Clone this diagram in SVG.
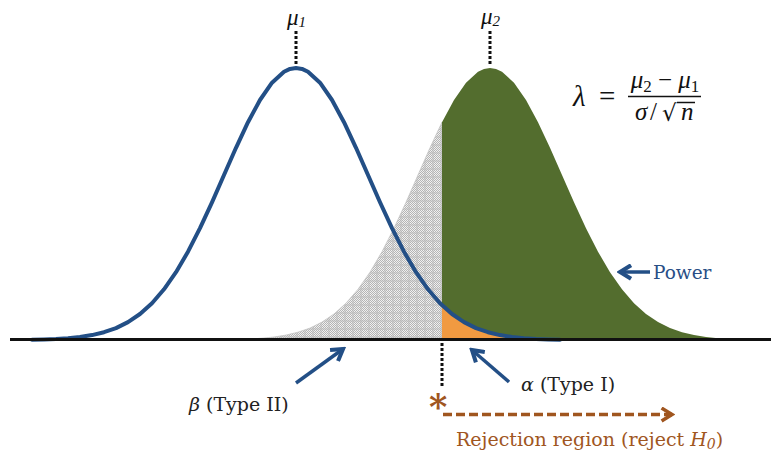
<svg xmlns="http://www.w3.org/2000/svg" width="771" height="456" viewBox="0 0 771 456">
<style>
.lbl{font-family:"DejaVu Serif","Liberation Serif",serif;}
.math{font-family:"Liberation Serif","DejaVu Serif",serif;}
.it{font-style:italic;}
.dot{stroke:#111;stroke-width:3;stroke-dasharray:3 2;fill:none;}
.barrow{stroke:#234f86;stroke-width:3.5;fill:none;}
</style>
<defs>
<pattern id="chk" width="2" height="2" patternUnits="userSpaceOnUse">
<rect width="2" height="2" fill="#f0f0f0"/>
<rect width="1" height="1" fill="#b4b4b4"/>
<rect x="1" y="1" width="1" height="1" fill="#b4b4b4"/>
</pattern>
<pattern id="plaid" width="8" height="8" patternUnits="userSpaceOnUse">
<rect width="8" height="8" fill="url(#chk)"/>
<rect x="0" width="2" height="8" fill="#bdbdbd" opacity="0.45"/>
<rect y="0" width="8" height="2" fill="#bdbdbd" opacity="0.45"/>
</pattern>
<marker id="bHead" viewBox="0 0 10 10" refX="8" refY="5" markerWidth="17" markerHeight="17" markerUnits="userSpaceOnUse" orient="auto">
<path d="M1.5,1 L8,5 L1.5,9" fill="none" stroke="#234f86" stroke-width="2.4"/>
</marker>
<marker id="rHead" viewBox="0 0 10 10" refX="8" refY="5" markerWidth="16" markerHeight="16" markerUnits="userSpaceOnUse" orient="auto">
<path d="M1.5,1 L8,5 L1.5,9" fill="none" stroke="#a0561f" stroke-width="2.2"/>
</marker>
</defs>
<rect width="771" height="456" fill="#ffffff"/>

<g id="beta-region">
<path d="M226,340 L226,339.7 238,339.4 250,339.0 262,338.2 274,337.0 286,335.1 298,332.2 310,328.1 322,322.1 334,314.0 346,303.2 358,289.3 370,272.2 382,251.7 394,228.2 406,202.3 418,175.0 430,147.8 442,122.2 L442,340 Z" fill="url(#plaid)" stroke="#c4c4c4" stroke-width="0.8"/>
</g>

<g id="power-region">
<path d="M442,340 L442,122.2 454,100.0 466,82.7 478,71.8 484,68.9 490,68.0 496,68.9 502,71.8 514,82.7 526,100.0 538,122.2 550,147.8 562,175.0 574,202.3 586,228.2 598,251.7 610,272.2 622,289.3 634,303.2 646,314.0 658,322.1 670,328.1 682,332.2 694,335.1 706,337.0 718,338.2 730,339.0 742,339.4 754,339.7 766,340 Z" fill="#536d2e"/>
</g>

<g id="alpha-region">
<path d="M442,340 L442,305.2 452,314.0 464,322.1 476,328.1 488,332.2 500,335.1 512,337.0 524,338.2 536,339.0 548,339.4 560,340 Z" fill="#f19a41"/>
</g>

<g id="h0-curve">
<polyline points="32,339.7 44,339.4 56,339.0 68,338.2 80,337.0 92,335.1 104,332.2 116,328.1 128,322.1 140,314.0 152,303.2 164,289.3 176,272.2 188,251.7 200,228.2 212,202.3 224,175.0 236,147.8 248,122.2 260,100.0 272,82.7 284,71.8 290,68.9 296,68.0 302,68.9 308,71.8 320,82.7 332,100.0 344,122.2 356,147.8 368,175.0 380,202.3 392,228.2 404,251.7 416,272.2 428,289.3 440,303.2 452,314.0 464,322.1 476,328.1 488,332.2 500,335.1 512,337.0 524,338.2 536,339.0 548,339.4 560,339.7" fill="none" stroke="#234f86" stroke-width="4" stroke-linejoin="round" stroke-linecap="round"/>
</g>

<g id="axis">
<line x1="10" y1="339.5" x2="771" y2="339.5" stroke="#111" stroke-width="3"/>
</g>

<g id="mu1">
<line class="dot" x1="296" y1="31" x2="296" y2="66"/>
<text class="math it" x="287" y="25" font-size="23" fill="#111">μ<tspan font-size="15" dy="2">1</tspan></text>
</g>
<g id="mu2">
<line class="dot" x1="490" y1="31" x2="490" y2="66"/>
<text class="math it" x="481" y="24" font-size="23" fill="#111">μ<tspan font-size="15" dy="2">2</tspan></text>
</g>

<g id="formula" fill="#111">
<text class="math it" x="573" y="106" font-size="29">λ</text>
<text class="math" x="599" y="106" font-size="29">=</text>
<text class="math" x="665" y="88" font-size="25" text-anchor="middle"><tspan class="it">μ</tspan><tspan font-size="17" dy="4">2</tspan><tspan dy="-4"> − </tspan><tspan class="it">μ</tspan><tspan font-size="17" dy="4">1</tspan></text>
<line x1="628" y1="96.5" x2="701" y2="96.5" stroke="#111" stroke-width="1.6"/>
<text class="math it" x="635" y="120" font-size="25">σ</text>
<text class="math" x="650" y="120" font-size="25">/</text>
<text class="lbl" x="662" y="121" font-size="23">√</text>
<text class="math it" x="681" y="120" font-size="25">n</text>
<line x1="677" y1="102.5" x2="695" y2="102.5" stroke="#111" stroke-width="1.5"/>
</g>

<g id="cutoff">
<line class="dot" x1="442" y1="343" x2="442" y2="386"/>
<text class="lbl" x="429" y="419" font-size="35" font-weight="bold" fill="#a0561f">*</text>
</g>

<g id="connectors">
<line class="barrow" x1="296" y1="383" x2="343" y2="349" marker-end="url(#bHead)"/>
<line class="barrow" x1="509" y1="382" x2="472" y2="350" marker-end="url(#bHead)"/>
<line class="barrow" x1="650" y1="272" x2="620" y2="272" marker-end="url(#bHead)"/>
<line x1="443" y1="414.5" x2="672" y2="414.5" stroke="#a0561f" stroke-width="3.5" stroke-dasharray="9 4" marker-end="url(#rHead)"/>
</g>

<g id="labels">
<text class="lbl" x="189" y="411" font-size="19" fill="#222"><tspan class="it">β</tspan> (Type II)</text>
<text class="lbl" x="521" y="391" font-size="19" fill="#222"><tspan class="it">α</tspan> (Type I)</text>
<text class="lbl" x="653" y="279" font-size="18.5" fill="#2a4f86">Power</text>
<text class="lbl" x="456" y="446" font-size="19" fill="#a0561f">Rejection region (reject <tspan class="it">H</tspan><tspan class="it" font-size="14" dy="3">0</tspan><tspan dy="-3">)</tspan></text>
</g>
</svg>
